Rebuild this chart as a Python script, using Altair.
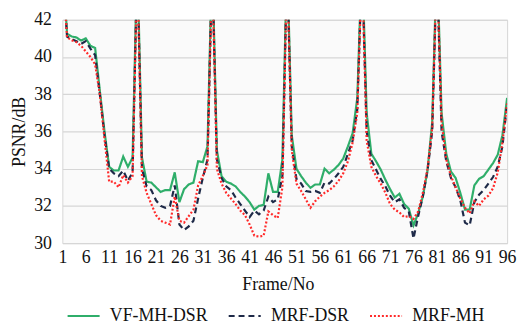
import altair as alt
import pandas as pd

frames = list(range(1, 97))

vf_mh_dsr = [
    45.5, 41.25, 41.1, 41.05, 40.88, 41.0, 40.6, 40.48, 38.2, 36.0,
    34.1, 33.9, 33.9, 34.65, 34.1, 34.6, 45.5, 34.6, 33.3, 33.25,
    33.0, 32.75, 32.85, 32.85, 33.8, 32.2, 32.9, 33.15, 33.25, 34.4,
    34.35, 35.2, 45.5, 35.0, 33.6, 33.3, 33.2, 33.05, 32.75, 32.5,
    32.2, 31.8, 32.0, 32.05, 33.75, 32.75, 32.75, 34.5, 45.5, 35.8,
    34.0, 33.6, 33.25, 32.97, 33.15, 33.15, 34.0, 33.75, 33.95, 34.2,
    34.55, 35.2, 35.9, 37.8, 45.5, 37.0, 34.8, 34.4, 33.95, 33.4,
    32.9, 32.45, 32.65, 32.1, 31.85, 30.95, 31.6, 32.5, 33.9, 36.5,
    45.5, 37.0, 34.8, 33.85, 33.5, 32.7, 31.8, 31.8, 33.1, 33.45,
    33.6, 33.95, 34.3, 34.75, 35.8, 37.8,
]

mrf_dsr = [
    45.0, 41.1, 40.95, 40.85, 40.7, 40.85, 40.45, 40.1, 38.0, 35.8,
    34.0, 33.75, 33.6, 33.9, 33.35, 33.8, 45.0, 34.0, 33.05, 32.85,
    32.3, 32.0, 31.9, 32.0, 33.1, 31.0, 30.7, 30.9, 31.2, 32.4,
    33.5, 34.5, 45.0, 34.5, 33.5, 33.05, 32.85, 32.45, 32.1, 31.75,
    31.4, 31.75, 31.55, 31.75, 32.5, 32.2, 32.35, 33.6, 45.0, 35.2,
    33.45, 33.2, 32.8, 32.75, 32.8, 32.7, 33.25, 33.2, 33.45, 33.75,
    34.1, 34.8, 35.5, 37.2, 45.0, 36.0, 34.45, 33.95, 33.45, 33.05,
    32.55, 32.2, 32.35, 31.9, 31.7, 30.25, 31.45, 32.5, 33.9, 36.0,
    45.0, 36.0, 34.4, 33.5, 33.0, 32.3, 31.1, 30.95, 32.2, 32.6,
    32.85, 33.2, 33.55, 34.1, 35.2, 37.5,
]

mrf_mh = [
    45.0, 41.05, 40.9, 40.8, 40.6, 40.3, 40.0, 39.6, 38.0, 35.6,
    33.3, 33.3, 33.0, 33.65, 33.25, 33.6, 45.0, 33.6, 32.7, 32.1,
    31.5, 31.2, 31.1, 31.0, 32.5, 31.2, 31.1, 31.45, 31.8, 33.1,
    33.6, 34.2, 45.0, 34.0, 33.2, 32.7, 32.4, 32.1, 31.75, 31.5,
    31.0, 30.4, 30.35, 30.4, 31.7, 31.5, 31.35, 33.0, 45.0, 35.0,
    33.2, 32.8, 32.35, 31.9, 32.25, 32.5, 32.7, 32.85, 33.05, 33.35,
    33.75, 34.4, 35.4, 37.0, 45.0, 35.5, 34.1, 33.6, 33.2, 32.7,
    32.1, 31.8, 31.65, 31.4, 31.45, 31.3, 31.7, 32.7, 34.0, 36.2,
    45.0, 36.5, 34.5, 33.6, 33.0, 32.4, 31.9, 31.6, 32.25, 32.0,
    32.35, 32.55, 32.95, 33.8, 35.4, 37.5,
]

series_names = ["VF-MH-DSR", "MRF-DSR", "MRF-MH"]
series_values = [vf_mh_dsr, mrf_dsr, mrf_mh]
series_colors = ["#2fae6a", "#1e2a48", "#ff2a2a"]
series_dash = [[1, 0], [6, 4], [2, 2]]
series_width = [2.2, 2.2, 1.6]

x_ticks = list(range(1, 97, 5))
y_ticks = [30, 32, 34, 36, 38, 40, 42]

rows = []
for name, vals in zip(series_names, series_values):
    for f, v in zip(frames, vals):
        rows.append({"frame": f, "psnr": v, "method": name})
df = pd.DataFrame(rows)

FONT = "Liberation Serif"

legend = alt.Legend(
    title=None,
    orient="none",
    legendX=4,
    legendY=282,
    direction="horizontal",
    symbolType="stroke",
    symbolSize=1050,
    symbolStrokeWidth=2,
    labelFont=FONT,
    labelFontSize=18,
    labelColor="#111111",
    labelOffset=9,
    columnPadding=15,
)

chart = (
    alt.Chart(df)
    .mark_line(clip=True)
    .encode(
        x=alt.X(
            "frame:Q",
            scale=alt.Scale(domain=[1, 96], nice=False, zero=False),
            axis=alt.Axis(
                values=x_ticks,
                title="Frame/No",
                grid=False,
                ticks=False,
                domain=False,
                labelPadding=6,
                titlePadding=9,
                titleX=218,
                labelFlush=False,
            ),
        ),
        y=alt.Y(
            "psnr:Q",
            scale=alt.Scale(domain=[30, 42], nice=False, zero=False),
            axis=alt.Axis(
                values=y_ticks,
                title="PSNR/dB",
                ticks=False,
                domain=False,
                labelPadding=11,
                titlePadding=5,
            ),
        ),
        color=alt.Color(
            "method:N",
            scale=alt.Scale(domain=series_names, range=series_colors),
            legend=legend,
        ),
        strokeDash=alt.StrokeDash(
            "method:N",
            scale=alt.Scale(domain=series_names, range=series_dash),
            legend=legend,
        ),
        strokeWidth=alt.StrokeWidth(
            "method:N",
            scale=alt.Scale(domain=series_names, range=series_width),
            legend=legend,
        ),
    )
    .properties(
        width=450,
        height=226,
        autosize=alt.AutoSizeParams(type="none"),
        padding={"left": 55, "top": 10, "right": 10, "bottom": 84},
        background="#ffffff",
    )
    .configure_view(stroke="#d6d6d6", fill="#fafafa", strokeWidth=1)
    .configure_axis(
        labelFont=FONT,
        labelFontSize=18,
        labelColor="#111111",
        titleFont=FONT,
        titleFontSize=18,
        titleFontWeight="normal",
        titleColor="#111111",
        gridColor="#d6d6d6",
        gridWidth=1.2,
    )
)

chart.save("out.html", embed_options={"renderer": "svg", "actions": False})
